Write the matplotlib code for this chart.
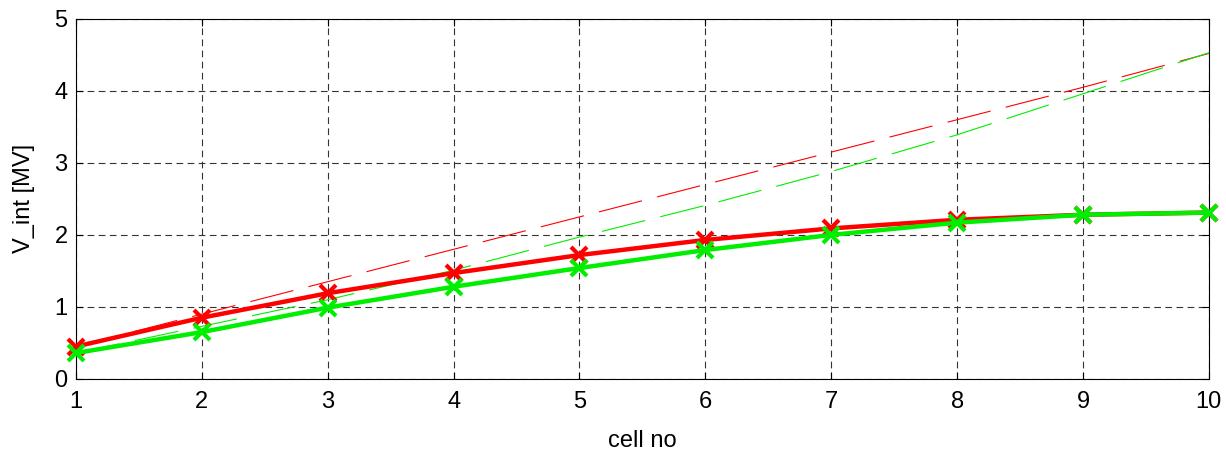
import numpy as np
import matplotlib
matplotlib.use("Agg")
import matplotlib.pyplot as plt

plt.rcParams['font.family'] = ['Liberation Sans', 'DejaVu Sans']

# data
cell_no = [1, 2, 3, 4, 5, 6, 7, 8, 9, 10]
v_red = [0.45, 0.85, 1.19, 1.47, 1.72, 1.93, 2.09, 2.21, 2.28, 2.31]
v_green = [0.36, 0.65, 0.99, 1.28, 1.54, 1.79, 2.00, 2.17, 2.28, 2.31]
v_red_lin = [0.45, 0.90, 1.35, 1.80, 2.25, 2.70, 3.15, 3.60, 4.05, 4.52]
v_green_lin = [0.36, 0.73, 1.10, 1.51, 1.97, 2.41, 2.88, 3.39, 3.96, 4.53]

fig = plt.figure(figsize=(12.26, 4.5), dpi=100)
ax = fig.add_axes([0.062, 0.158, 0.924, 0.8])

red = '#ff0000'
green = '#00ee00'

l1, = ax.plot(cell_no, v_red_lin, color=red, lw=0.8)
l1.set_dashes((40, 14))
l2, = ax.plot(cell_no, v_green_lin, color=green, lw=0.8)
l2.set_dashes((40, 14))

ax.plot(cell_no, v_red, color=red, lw=3.2, marker='x', ms=11, mew=3, clip_on=False, zorder=3)
ax.plot(cell_no, v_green, color=green, lw=3.2, marker='x', ms=11, mew=3, clip_on=False, zorder=4)

ax.set_xlim(1, 10)
ax.set_ylim(0, 5)
ax.set_xticks(range(1, 11))
ax.set_yticks(range(0, 6))
ax.tick_params(direction='in', labelsize=17, top=True, right=True, length=5)
ax.tick_params(axis='x', pad=9)
ax.tick_params(axis='y', pad=6)
ax.grid(True, color='#333333', lw=0.8, linestyle=(0, (6, 4)))
ax.set_axisbelow(True)
for s in ax.spines.values():
    s.set_linewidth(0.8)

ax.set_xlabel('cell no', fontsize=17, labelpad=12)
ax.set_ylabel('V_int [MV]', fontsize=17, labelpad=14)

fig.savefig('out.png', dpi=100)
